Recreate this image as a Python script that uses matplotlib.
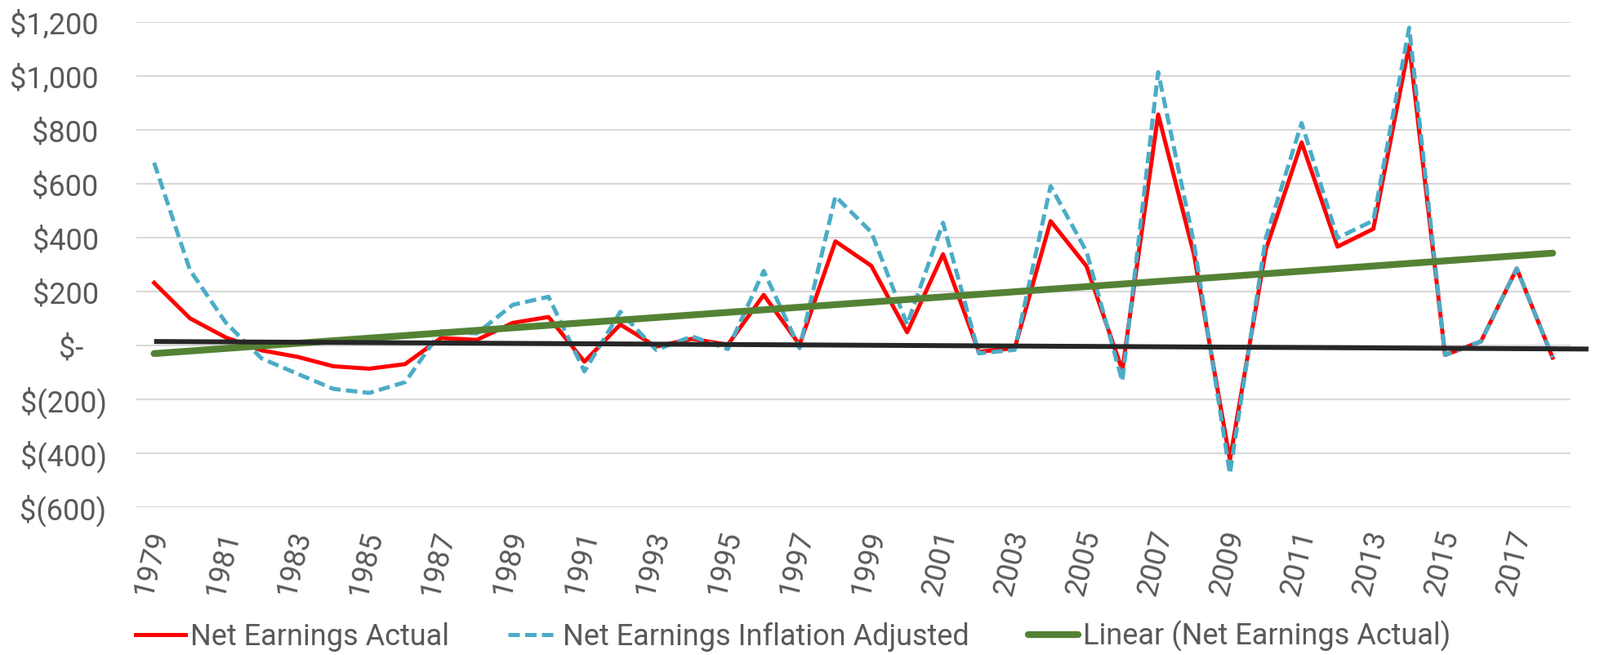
import numpy as np
import matplotlib
matplotlib.use("Agg")
import matplotlib.pyplot as plt
from matplotlib.transforms import ScaledTranslation

# values
years = list(range(1979, 2019))
net_actual = [233, 101, 30, -18, -42, -77, -86, -69, 28, 21,
              84, 106, -60, 78, -4, 25, 3, 188, 3, 387,
              296, 49, 339, -23, -10, 462, 295, -92, 858, 337,
              -425, 355, 754, 367, 433, 1116, -35, 15, 286, -45]
net_adjusted = [679, 280, 85, -48, -105, -161, -176, -136, 53, 45,
                151, 181, -96, 125, -16, 34, -13, 277, -10, 554,
                421, 78, 456, -29, -16, 592, 349, -132, 1015, 378,
                -476, 399, 826, 399, 464, 1180, -35, 15, 286, -45]
# unlabelled black line (start / end)
black_years = [1979, 2019]
black_vals = [15, -13]

yticks = [-600, -400, -200, 0, 200, 400, 600, 800, 1000, 1200]
xticks = list(range(1979, 2018, 2))

grey = "#595959"
plt.rcParams["font.family"] = ["Roboto", "DejaVu Sans"]

fig = plt.figure(figsize=(19.59, 8.02), dpi=100)
ax = fig.add_axes([0.0851, 0.2257, 0.8965, 0.7403])

# linear trend of the actual series
coef = np.polyfit(years, net_actual, 1)
trend = np.polyval(coef, years)

ax.plot(years, net_actual, color="#FF0000", lw=3.6, label="Net Earnings Actual", zorder=3)
ax.plot(years, net_adjusted, color="#4BACC6", lw=3.6, dashes=(2.8, 1.3),
        label="Net Earnings Inflation Adjusted", zorder=4)
ax.plot(years, trend, color="#548235", lw=6, solid_capstyle="round",
        label="Linear (Net Earnings Actual)", zorder=5)
ax.plot(black_years, black_vals, color="#262626", lw=4.3, solid_capstyle="butt",
        zorder=6, clip_on=False)

ax.set_xlim(1978.5, 2018.5)
ax.set_ylim(-600, 1200)
ax.set_yticks(yticks)
ax.grid(axis="y", color="#D9D9D9", lw=1.5)
ax.set_axisbelow(True)
for s in ax.spines.values():
    s.set_visible(False)


def money(v):
    if v == 0:
        return "$-"
    if v < 0:
        return "$({:,})".format(-v)
    return "${:,}".format(v)


ax.set_yticklabels([money(v) for v in yticks])
ax.tick_params(axis="y", length=0, pad=26, labelsize=26, labelcolor=grey)
for v, lbl in zip(yticks, ax.get_yticklabels()):
    shift = 0
    if v > 0:
        shift = -10
    elif v == 0:
        shift = -28
    lbl.set_transform(lbl.get_transform() + ScaledTranslation(shift / 100, 0, fig.dpi_scale_trans))

ax.set_xticks(xticks)
ax.set_xticklabels([str(y) for y in xticks], rotation=76, ha="right", va="center",
                   rotation_mode="anchor")
ax.tick_params(axis="x", length=0, pad=21, labelsize=26, labelcolor=grey)
for lbl in ax.get_xticklabels():
    lbl.set_transform(lbl.get_transform() + ScaledTranslation(6 / 100, 0, fig.dpi_scale_trans))

leg = fig.legend(loc="center left", bbox_to_anchor=(166 / 1959, 1 - 779 / 802), ncol=3,
                 frameon=False, fontsize=26, handlelength=1.7, handletextpad=0.15,
                 columnspacing=2.0, borderpad=0, borderaxespad=0)
for t in leg.get_texts():
    t.set_color(grey)

fig.savefig("out.png", dpi=100)
